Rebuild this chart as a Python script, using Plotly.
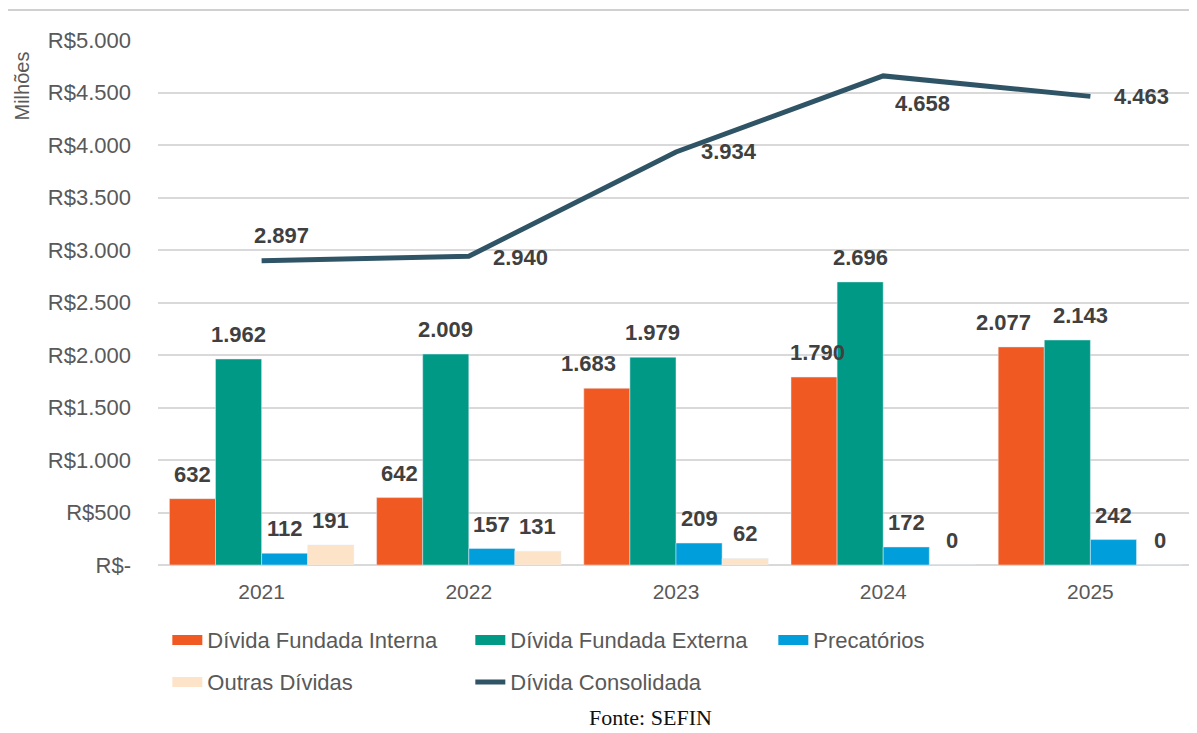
import plotly.graph_objects as go

# Dados (R$ milhões)
anos = ["2021", "2022", "2023", "2024", "2025"]
interna = [632, 642, 1683, 1790, 2077]
externa = [1962, 2009, 1979, 2696, 2143]
precatorios = [112, 157, 209, 172, 242]
outras = [191, 131, 62, 0, 0]
consolidada = [2897, 2940, 3934, 4658, 4463]

tick_vals = [0, 500, 1000, 1500, 2000, 2500, 3000, 3500, 4000, 4500, 5000]
tick_text = ["R$-", "R$500", "R$1.000", "R$1.500", "R$2.000", "R$2.500",
             "R$3.000", "R$3.500", "R$4.000", "R$4.500", "R$5.000"]

# deslocamento dos rótulos da linha (px)
line_label_dx = [20, 52, 53, 39, 51]
line_label_dy = [25, -1, 0, -28, 0]

FONT = "Liberation Sans"
label_font = dict(family=FONT, size=22, color="#404040", weight="bold")

W, H = 1189, 725
M = dict(l=150, r=3, t=32, b=168)
plot_w = W - M["l"] - M["r"]
BARGAP = 0.11
bar_px = plot_w / len(anos) * (1 - BARGAP) / 4

fig = go.Figure()

series = [
    ("Dívida Fundada Interna", interna, "#F05A22", [0, 0, -18, 3, -18]),
    ("Dívida Fundada Externa", externa, "#009986", [0, 0, 0, 0, 13]),
    ("Precatórios", precatorios, "#009FDB", [0, 0, 0, 0, 0]),
    ("Outras Dívidas", outras, "#FDE3C8", [0, 0, 0, 0, 0]),
]
for j, (name, vals, color, nudge) in enumerate(series):
    fig.add_trace(go.Bar(
        x=anos, y=vals, name=name, marker_color=color,
        showlegend=False, legendgroup=name,
    ))
    for i, v in enumerate(vals):
        fig.add_annotation(
            x=i, y=v, text=f"{v:,}".replace(",", "."), showarrow=False,
            yanchor="bottom", yshift=10,
            xshift=(j - 1.5) * bar_px + nudge[i], font=label_font,
        )

fig.add_trace(go.Scatter(
    x=anos, y=consolidada, name="Dívida Consolidada", mode="lines",
    line=dict(color="#2F5466", width=5), showlegend=False,
    legendgroup="Dívida Consolidada",
))

for i, v in enumerate(consolidada):
    fig.add_annotation(
        x=i, y=v, text=f"{v:,}".replace(",", "."), showarrow=False,
        xshift=line_label_dx[i], yshift=line_label_dy[i], font=label_font,
    )

# entradas da legenda (faixas largas como no original)
legend_of = ["legend", "legend", "legend", "legend2"]
for (name, _, color, _), lg in zip(series, legend_of):
    fig.add_trace(go.Scatter(
        x=[None], y=[None], mode="lines", name=name, legendgroup=name,
        line=dict(color=color, width=13), legend=lg,
    ))
fig.add_trace(go.Scatter(
    x=[None], y=[None], mode="lines", name="Dívida Consolidada",
    legendgroup="Dívida Consolidada", line=dict(color="#2F5466", width=5),
    legend="legend2",
))

fig.add_annotation(
    xref="paper", yref="paper", x=-0.131, y=0.912,
    xanchor="center", yanchor="middle",
    text="Milhões", textangle=-90, showarrow=False,
    font=dict(family=FONT, size=20, color="#595959"),
)
fig.add_annotation(
    xref="paper", yref="paper", x=0.475, y=-0.262, yanchor="top",
    text="Fonte: SEFIN", showarrow=False,
    font=dict(family="Liberation Serif", size=22, color="#111111"),
)
fig.add_shape(type="line", xref="paper", yref="paper",
              x0=-0.145, x1=1.01, y0=1.057, y1=1.057,
              line=dict(color="#D0D0D0", width=2))

leg = dict(orientation="h", x=0.009, yanchor="top",
           entrywidth=258, entrywidthmode="pixels",
           font=dict(family=FONT, size=22, color="#595959"),
           traceorder="normal", bgcolor="rgba(0,0,0,0)")

fig.update_layout(
    width=W, height=H,
    margin=dict(**M, autoexpand=False),
    plot_bgcolor="white", paper_bgcolor="white",
    barmode="group", bargap=BARGAP, bargroupgap=0,
    font=dict(family=FONT, color="#595959", size=20),
    legend=dict(leg, y=-0.103),
    legend2=dict(leg, y=-0.183),
    xaxis=dict(type="category", showline=False, ticks="",
               tickfont=dict(size=21), range=[-0.5, 4.5],
               ticklabelstandoff=12),
    yaxis=dict(range=[0, 5000], tickvals=tick_vals, ticktext=tick_text,
               showgrid=True, gridcolor="#D9D9D9", gridwidth=1.5,
               zeroline=True, zerolinecolor="#D9D9D9", zerolinewidth=1.5,
               ticklabelstandoff=26, tickfont=dict(size=22)),
)

fig.write_html("out.html")
